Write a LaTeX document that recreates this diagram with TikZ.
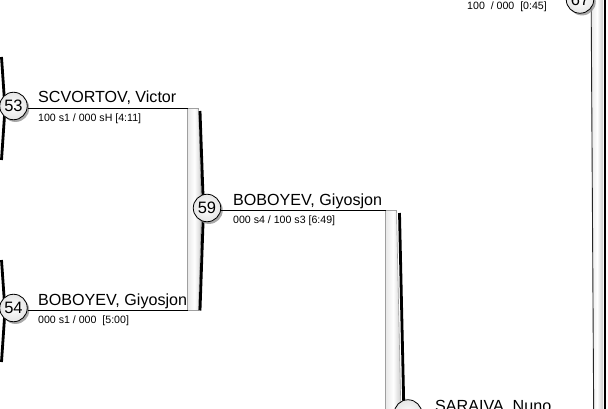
\documentclass[tikz,border=0pt]{standalone}
\usepackage{fontspec}
\setmainfont{Liberation Sans}
\usetikzlibrary{shadows}
\begin{document}
\begin{tikzpicture}[x=1pt,y=-1pt,
  namelbl/.style={font=\fontsize{16.1}{18}\selectfont, inner sep=0pt, anchor=base west},
  scorelbl/.style={font=\fontsize{10.6}{12}\selectfont, inner sep=0pt, anchor=base west},
  matchcirc/.style={circle, draw=black, line width=0.8pt, minimum size=27.5pt, inner sep=0pt,
    inner color=white, outer color=gray!20, font=\fontsize{16.5}{18}\selectfont,
    drop shadow={shadow xshift=2pt, shadow yshift=-2.2pt, fill=gray!85, opacity=0.8}},
  hline/.style={line width=1.4pt, black},
  barfill/.style={left color=gray!18, right color=gray!40, middle color=white, draw=gray!75, line width=0.6pt},
  barshadow/.style={line width=2.8pt, black, line join=round}
  ]
\useasboundingbox (0,0) rectangle (608,409);
\clip (0,0) rectangle (608,409);

% previous-round bar edges at the far left
\draw[barshadow] (1.5,57) -- (5,108.5) -- (1.5,160);
\draw[barshadow] (1.5,260) -- (5,310.5) -- (1.5,362);

% bar coordinates
\coordinate (b1top) at (187.5,108.5);
\coordinate (b1bot) at (187.5,310.5);
\coordinate (b2top) at (385.5,210.5);

% bar 1 (53/54 -> 59)
\path[barfill] (b1top) -- (198.5,108.5) -- (201.5,209.5) -- (198.5,310.5) -- (b1bot) -- cycle;
\draw[barshadow] (200,111) -- (203.5,209.5) -- (200,310.5);

% bar 2 (59 -> ...)
\path[barfill] (b2top) -- (396.5,210.5) -- (401,416) -- (396.5,621) -- (385.5,621) -- cycle;
\draw[barshadow] (399.5,213) -- (404,416);

% right bar
\path[left color=gray!18, right color=gray!40, middle color=white] (591,-20) -- (603,-20) -- (603,430) -- (593.5,430) -- cycle;
\draw[line width=0.9pt, black!85] (591,-20) -- (593.8,430);
\draw[barshadow] (605,-20) -- (605,430);

% circles
\node[matchcirc] (m53) at (13.5,106) {53};
\node[matchcirc] (m54) at (13.5,308) {54};
\node[matchcirc] (m59) at (207,208) {59};
\node[matchcirc] (m60) at (408,413.5) {};
\node[matchcirc] (m67) at (580,-0.5) {67};

% connectors
\draw[hline] ([yshift=-2.5pt]m53.east) -- (b1top);
\draw[hline] ([yshift=-2.5pt]m54.east) -- (b1bot);
\draw[hline] ([yshift=-2.5pt]m59.east) -- (b2top);

% labels
\node[namelbl] (n53) at (38,103) {SCVORTOV, Victor};
\node[scorelbl] (s53) at (38,121.5) {100 s1 / 000 sH [4:11]};
\node[namelbl] (n54) at (38,305.5) {BOBOYEV, Giyosjon};
\node[scorelbl] (s54) at (38,323.5) {000 s1 / 000\ \ [5:00]};
\node[namelbl] (n59) at (233,205) {BOBOYEV, Giyosjon};
\node[scorelbl] (s59) at (233,223.5) {000 s4 / 100 s3 [6:49]};
\node[namelbl] (n60) at (435,411.5) {SARAIVA, Nuno};
\node[scorelbl, anchor=base east] (s67) at (547,10) {100\ \ / 000\ \ [0:45]};
\end{tikzpicture}
\end{document}
